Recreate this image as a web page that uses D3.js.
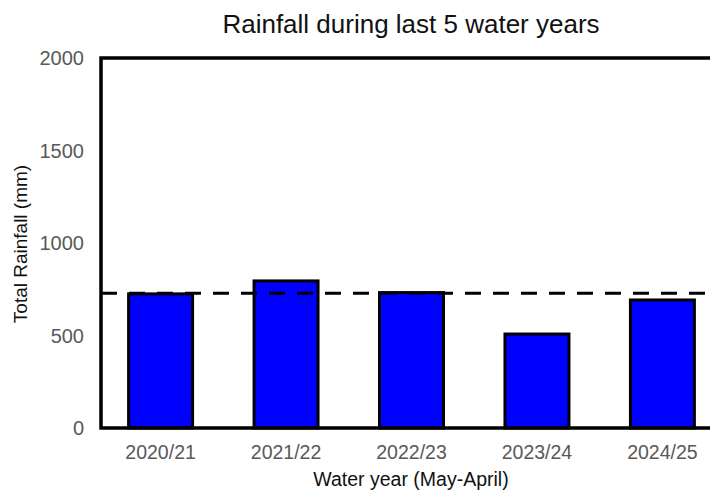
<!DOCTYPE html>
<html><head><meta charset="utf-8">
<script src="https://cdn.jsdelivr.net/npm/d3@7"></script>
<style>body{margin:0;background:#fff}text{font-family:Arial,"Liberation Sans",sans-serif}</style>
</head><body><svg id="c" width="710" height="491"></svg>
<script>
var years = ["2020/21", "2021/22", "2022/23", "2023/24", "2024/25"];
var rainfall = [725, 795, 732, 508, 692];
var average = 728;
var yTicks = [0, 500, 1000, 1500, 2000];

var svg = d3.select("#c");
var plotLeft = 101, plotTop = 58, plotBottom = 428, plotRight = 722;

var x = d3.scaleBand().domain(years).range([plotLeft, plotRight]).paddingInner(0.49).paddingOuter(0.22);
var y = d3.scaleLinear().domain([0, 2000]).range([plotBottom, plotTop]);

// bars
svg.selectAll("rect.bar").data(years).enter().append("rect")
  .attr("x", function (d) { return x(d); })
  .attr("width", x.bandwidth())
  .attr("y", function (d, i) { return y(rainfall[i]); })
  .attr("height", function (d, i) { return plotBottom - y(rainfall[i]); })
  .attr("fill", "#0000ff").attr("stroke", "#000").attr("stroke-width", 3);

// average line
svg.append("line").attr("x1", plotLeft).attr("x2", 710)
  .attr("y1", y(average)).attr("y2", y(average))
  .attr("stroke", "#000").attr("stroke-width", 3).attr("stroke-dasharray", "16,12");

// frame: left, top, bottom
svg.append("path").attr("d", "M710," + plotTop + "H" + plotLeft + "V" + plotBottom + "H710")
  .attr("fill", "none").attr("stroke", "#000").attr("stroke-width", 3.5);

// y tick labels
svg.selectAll("text.yt").data(yTicks).enter().append("text")
  .attr("x", 84).attr("y", function (d) { return y(d) + 7; })
  .attr("text-anchor", "end").attr("font-size", 20).attr("fill", "#595959")
  .text(function (d) { return d; });

// x tick labels
svg.selectAll("text.xt").data(years).enter().append("text")
  .attr("x", function (d) { return x(d) + x.bandwidth() / 2; }).attr("y", 459)
  .attr("text-anchor", "middle").attr("font-size", 19.5).attr("fill", "#595959")
  .text(function (d) { return d; });

svg.append("text").attr("x", 411).attr("y", 33).attr("text-anchor", "middle")
  .attr("font-size", 26).attr("fill", "#111").text("Rainfall during last 5 water years");
svg.append("text").attr("x", 411).attr("y", 486).attr("text-anchor", "middle")
  .attr("font-size", 19.5).attr("fill", "#111").text("Water year (May-April)");
svg.append("text").attr("transform", "translate(27,244) rotate(-90)").attr("text-anchor", "middle")
  .attr("font-size", 19).attr("fill", "#111").text("Total Rainfall (mm)");
</script></body></html>
